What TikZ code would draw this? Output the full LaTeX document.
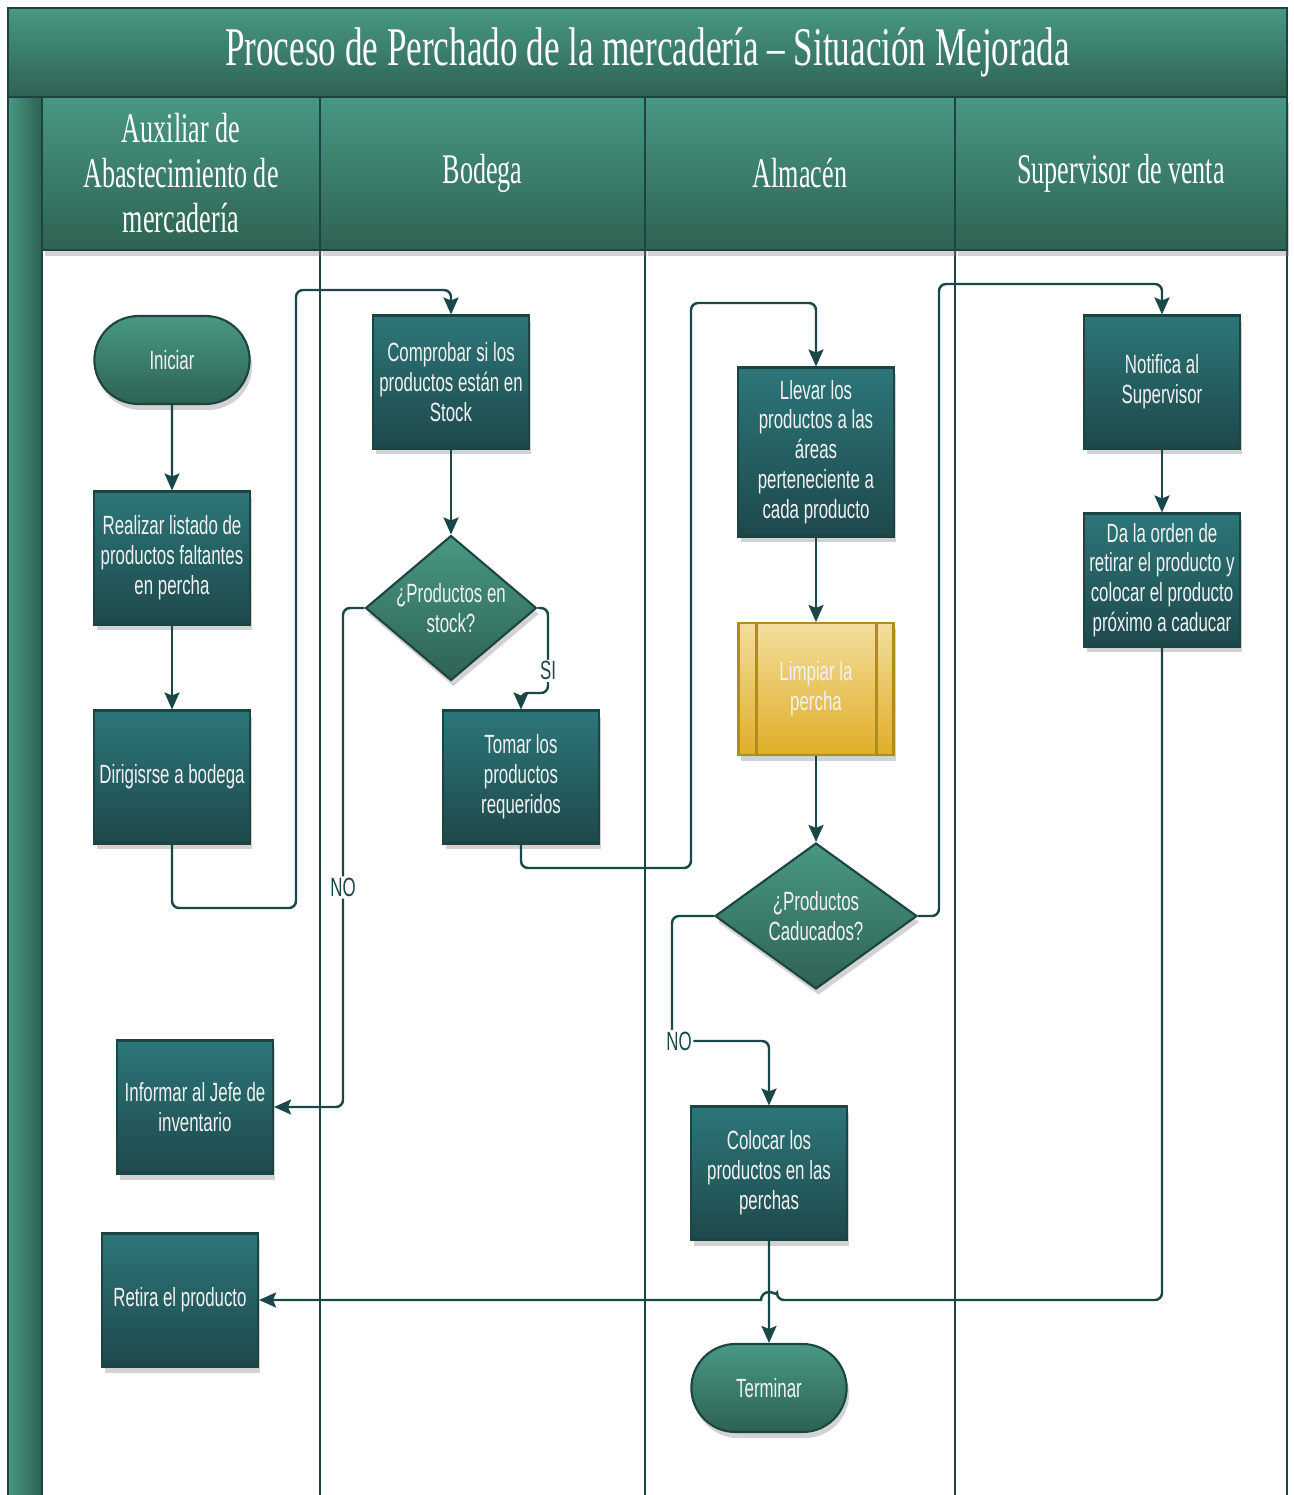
\documentclass[tikz,border=0pt]{standalone}
\usepackage{fontspec}
\setmainfont{Liberation Serif}
\newfontfamily\headfont[FakeStretch=0.62]{Liberation Serif}
\newfontfamily\titlefont[FakeStretch=0.645]{Liberation Serif}
\newfontfamily\boxfont[FakeStretch=0.64]{Liberation Sans}
\usepackage{tikz}
\usetikzlibrary{shapes,shapes.geometric,shapes.misc}
\usetikzlibrary{arrows.meta,shadows}
\definecolor{hdtop}{RGB}{72,152,132}
\definecolor{hdbot}{RGB}{46,98,82}
\definecolor{bxtop}{RGB}{44,118,121}
\definecolor{bxbot}{RGB}{30,72,75}
\definecolor{rim}{RGB}{28,68,66}
\definecolor{wire}{RGB}{26,71,71}
\definecolor{ylwtop}{RGB}{242,222,158}
\definecolor{ylwbot}{RGB}{224,174,38}
\definecolor{ylwrim}{RGB}{176,140,30}
\definecolor{txt}{RGB}{242,242,242}
\tikzstyle{boxtext}=[text=txt, font=\boxfont\fontsize{15}{17}\selectfont, align=center]
\tikzstyle{boxshadow}=[drop shadow={opacity=0.35, shadow xshift=0.05cm, shadow yshift=-0.12cm}]
\tikzstyle{proc}=[boxtext, boxshadow, rectangle, draw=rim, line width=1.2pt, top color=bxtop, bottom color=bxbot, minimum width=3.12cm, minimum height=2.66cm, inner sep=2pt]
\tikzstyle{term}=[boxtext, boxshadow, rounded rectangle, draw=rim, line width=1.2pt, top color=hdtop, bottom color=hdbot, minimum width=3.34cm, minimum height=1.76cm]
\tikzstyle{deci}=[boxtext, boxshadow, diamond, draw=rim, line width=1.2pt, top color=hdtop, bottom color=hdbot, inner sep=-3pt]
\tikzstyle{prep}=[boxtext, boxshadow, rectangle, draw=ylwrim, line width=1.2pt, top color=ylwtop, bottom color=ylwbot, minimum width=3.1cm, minimum height=2.64cm]
\tikzstyle{flow}=[draw=wire, line width=1.4pt, rounded corners=4pt, -{Stealth[length=0.34cm, width=0.3cm, inset=0.06cm]}]
\tikzstyle{lab}=[text=wire, font=\boxfont\fontsize{15}{17}\selectfont, fill=white, inner sep=1pt]
\tikzstyle{lanehead}=[draw=rim, line width=1pt, top color=hdtop, bottom color=hdbot, text=white, font=\headfont\fontsize{24}{25.6}\selectfont, align=center, minimum height=3.06cm, inner sep=0pt]
\tikzstyle{laneline}=[draw=rim, line width=1.5pt]

\begin{document}
\begin{tikzpicture}[x=0.02cm, y=-0.02cm]
\useasboundingbox (0,0) rectangle (1294,1495);
\fill[white] (0,0) rectangle (1294,1495);
% pool frame and lanes
\shade[left color=hdtop, right color=hdbot] (8,97) rectangle (42,1495);
\foreach \lx in {8,42,320,645,955,1287} {
	\draw[laneline] (\lx,97) -- (\lx,1495);
}
\node[draw=rim, line width=1pt, top color=hdtop, bottom color=hdbot, minimum width=25.58cm, minimum height=1.78cm, inner sep=0pt, text=white, font=\titlefont\fontsize{31}{33}\selectfont] (title) at (647.5,52.5) {Proceso de Perchado de la mercadería – Situación Mejorada};
\node[lanehead, boxshadow, minimum width=5.56cm] (hauxiliar) at (181,173.5) {Auxiliar de\\Abastecimiento de\\mercadería};
\node[lanehead, boxshadow, minimum width=6.5cm] (hbodega) at (482.5,173.5) {Bodega};
\node[lanehead, boxshadow, minimum width=6.2cm] (halmacen) at (800,173.5) {Almacén};
\node[lanehead, boxshadow, minimum width=6.64cm] (hsupervisor) at (1121,173.5) {Supervisor de venta};

% steps
\node[term] (start) at (172,360) {Iniciar};
\node[proc] (listado) at (172,558) {Realizar listado de\\productos faltantes\\en percha};
\node[proc] (irbodega) at (172,777) {Dirigisrse a bodega};
\node[proc] (informar) at (195,1107) {Informar al Jefe de\\inventario};
\node[proc] (retira) at (180,1300) {Retira el producto};
\node[proc] (comprobar) at (451,382) {Comprobar si los\\productos están en\\Stock};
\node[deci, minimum width=3.42cm, minimum height=2.9cm] (enstock) at (451,608) {¿Productos en\\stock?};
\node[proc] (tomar) at (521,777) {Tomar los\\productos\\requeridos};
\node[proc, minimum height=3.38cm] (llevar) at (816,452) {Llevar los\\productos a las\\áreas\\perteneciente a\\cada producto};
\node[prep] (limpiar) at (816,689) {Limpiar la\\percha};
\draw[ylwrim, line width=1.2pt] ([xshift=0.38cm]limpiar.north west) -- ([xshift=0.38cm]limpiar.south west);
\draw[ylwrim, line width=1.2pt] ([xshift=-0.36cm]limpiar.north east) -- ([xshift=-0.36cm]limpiar.south east);
\node[deci, minimum width=4.04cm, minimum height=2.92cm] (caducados) at (816,916) {¿Productos\\Caducados?};
\node[proc] (colocar) at (769,1173) {Colocar los\\productos en las\\perchas};
\node[term] (fin) at (769,1388) {Terminar};
\node[proc] (notifica) at (1162,382) {Notifica al\\Supervisor};
\node[proc] (orden) at (1162,580) {Da la orden de\\retirar el producto y\\colocar el producto\\próximo a caducar};

% bends
\coordinate (b1) at (296,908);
\coordinate (b2) at (296,290);
\coordinate (b3) at (548,693);
\coordinate (b4) at (343,1107);
\coordinate (b5) at (691,868);
\coordinate (b6) at (691,303);
\coordinate (b7) at (939,916);
\coordinate (b8) at (939,284);
\coordinate (b9) at (672,1041);
\coordinate (jump) at (777,1300);

% connectors
\draw[flow] (start) -- (listado);
\draw[flow] (listado) -- (irbodega);
\draw[flow] (irbodega.south) |- (b1) -- (b2) -| (comprobar.north);
\draw[flow] (comprobar) -- (enstock);
\draw[flow] (enstock.east) -| node[lab, pos=0.87] {SI} (b3) -| (tomar.north);
\draw[flow] (enstock.west) -| node[lab, pos=0.78] {NO} (b4) -- (informar.east);
\draw[flow] (tomar.south) |- (b5) -- (b6) -| (llevar.north);
\draw[flow] (llevar) -- (limpiar);
\draw[flow] (limpiar) -- (caducados);
\draw[flow] (caducados.east) -- (b7) -- (b8) -| (notifica.north);
\draw[flow] (caducados.west) -| (b9) node[lab, xshift=0.14cm] {NO} -| (colocar.north);
\draw[flow] (notifica) -- (orden);
\draw[flow] (colocar) -- (fin);
\draw[flow] (orden.south) |- (jump) [sharp corners] arc[start angle=0, end angle=180, radius=0.16cm] -- (retira.east);
\end{tikzpicture}
\end{document}
